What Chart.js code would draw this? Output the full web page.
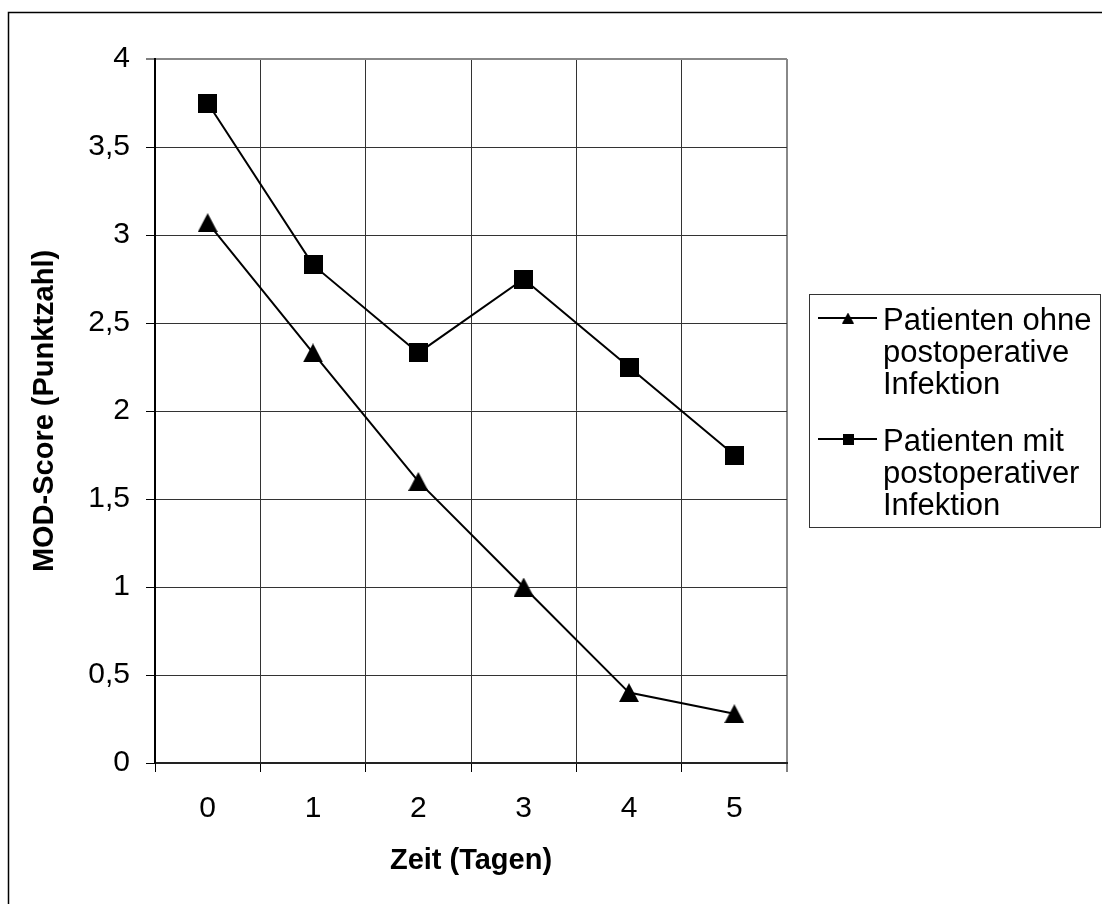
<!DOCTYPE html>
<html>
<head>
<meta charset="utf-8">
<script src="https://cdn.jsdelivr.net/npm/chart.js@4/dist/chart.umd.min.js"></script>
<style>
  body { margin: 0; background: #fff; }
  canvas { display: block; }
</style>
</head>
<body>
<canvas id="chart" width="1102" height="904"></canvas>
<script>
// Daten
const dayLabels = ['0', '1', '2', '3', '4', '5'];
const ohneInfektion = [3.07, 2.33, 1.6, 1.0, 0.4, 0.28];
const mitInfektion = [3.75, 2.83, 2.33, 2.75, 2.25, 1.75];
const yTickLabels = ['0', '0,5', '1', '1,5', '2', '2,5', '3', '3,5', '4'];
const legendLines = [
  ['Patienten ohne', 'postoperative', 'Infektion'],
  ['Patienten mit', 'postoperativer', 'Infektion']
];

const FONT = '"Liberation Sans", Arial, sans-serif';

// Marker als kleine Canvas (Mitte = Datenpunkt)
function makeMarker(shape, w, h) {
  const c = document.createElement('canvas');
  c.width = w;
  c.height = h;
  const g = c.getContext('2d');
  g.fillStyle = '#000';
  if (shape === 'triangle') {
    g.beginPath();
    g.moveTo(w / 2, 0);
    g.lineTo(w, h);
    g.lineTo(0, h);
    g.closePath();
    g.fill();
  } else {
    g.fillRect(0, 0, w, h);
  }
  return c;
}

const triBig = makeMarker('triangle', 20, 19);
const sqBig = makeMarker('rect', 19, 19);
const legendMarkers = [makeMarker('triangle', 12, 11), makeMarker('rect', 11, 11)];

// Rahmen links/oben
const framePlugin = {
  id: 'frame',
  beforeDraw(chart) {
    const ctx = chart.ctx;
    ctx.save();
    ctx.strokeStyle = '#000';
    ctx.lineWidth = 1.5;
    ctx.beginPath();
    ctx.moveTo(8.5, chart.height);
    ctx.lineTo(8.5, 12.5);
    ctx.lineTo(chart.width, 12.5);
    ctx.stroke();
    ctx.restore();
  }
};

// Legende mit mehrzeiligen Texten
const legendPlugin = {
  id: 'boxLegend',
  afterDraw(chart) {
    const ctx = chart.ctx;
    ctx.save();
    ctx.strokeStyle = '#333';
    ctx.lineWidth = 1;
    ctx.strokeRect(809.5, 294.5, 291, 233);
    ctx.font = '31px ' + FONT;
    ctx.fillStyle = '#000';
    ctx.textBaseline = 'alphabetic';
    const firstBaseline = [330, 451];
    legendLines.forEach((lines, i) => {
      const base = firstBaseline[i];
      const my = base - 12;
      ctx.strokeStyle = chart.data.datasets[i].borderColor;
      ctx.lineWidth = 2;
      ctx.beginPath();
      ctx.moveTo(818, my);
      ctx.lineTo(877, my);
      ctx.stroke();
      const m = legendMarkers[i];
      ctx.drawImage(m, 848 - m.width / 2, my - m.height / 2);
      lines.forEach((t, j) => ctx.fillText(t, 883, base + j * 32));
    });
    ctx.restore();
  }
};

new Chart(document.getElementById('chart'), {
  type: 'line',
  data: {
    labels: dayLabels,
    datasets: [{
      label: legendLines[0].join(' '),
      data: ohneInfektion,
      borderColor: '#000',
      borderWidth: 2,
      pointStyle: triBig,
      tension: 0
    }, {
      label: legendLines[1].join(' '),
      data: mitInfektion,
      borderColor: '#000',
      borderWidth: 2,
      pointStyle: sqBig,
      tension: 0
    }]
  },
  options: {
    responsive: false,
    animation: false,
    layout: { padding: { left: 0, top: 59, right: 315, bottom: 0 } },
    plugins: {
      legend: { display: false },
      tooltip: { enabled: false }
    },
    scales: {
      x: {
        offset: true,
        afterFit: s => { s.height = 141; },
        grid: {
          offset: true,
          color: c => c.type === 'scale' ? '#888' : '#333',
          lineWidth: c => c.type === 'scale' ? 2 : 1,
          tickLength: 9,
          tickColor: '#000',
          tickWidth: 1
        },
        border: { color: '#222', width: 2 },
        ticks: { color: '#000', padding: 19, font: { family: FONT, size: 30 } },
        title: {
          display: true,
          text: 'Zeit (Tagen)',
          color: '#000',
          padding: { top: 0, bottom: 26 },
          font: { family: FONT, size: 29, weight: 'bold' }
        }
      },
      y: {
        min: 0,
        max: 4,
        afterFit: s => { s.width = 155; },
        grid: {
          color: c => c.tick && c.tick.value === 4 ? '#888' : '#333',
          lineWidth: c => c.tick && c.tick.value === 4 ? 2 : 1,
          tickLength: 9,
          tickColor: '#000',
          tickWidth: 1
        },
        border: { color: '#000', width: 2 },
        ticks: {
          stepSize: 0.5,
          color: '#000',
          padding: 16,
          font: { family: FONT, size: 30 },
          callback: (v, i) => yTickLabels[i]
        },
        title: {
          display: true,
          text: 'MOD-Score (Punktzahl)',
          color: '#000',
          padding: { top: 28, bottom: 0 },
          font: { family: FONT, size: 29, weight: 'bold' }
        }
      }
    }
  },
  plugins: [framePlugin, legendPlugin]
});
</script>
</body>
</html>
